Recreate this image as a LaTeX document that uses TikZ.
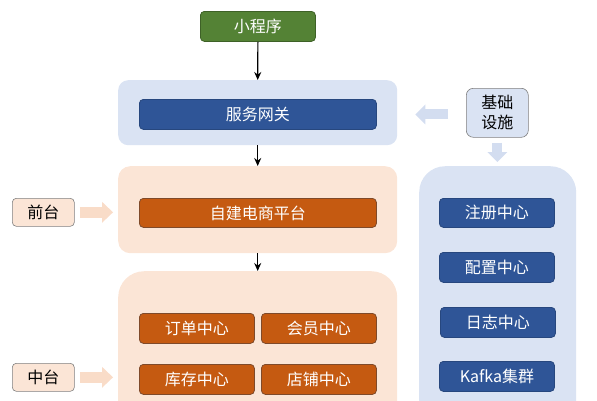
\documentclass[tikz,border=0pt]{standalone}
\usepackage{fontspec}
\setmainfont{Noto Sans CJK SC}
\usetikzlibrary{arrows.meta}
\definecolor{gfill}{HTML}{548235}
\definecolor{gline}{HTML}{3E6127}
\definecolor{bfill}{HTML}{2F5597}
\definecolor{bline}{HTML}{27477E}
\definecolor{ofill}{HTML}{C55A11}
\definecolor{oline}{HTML}{7F4A2A}
\definecolor{lblue}{HTML}{DAE3F3}
\definecolor{lpeach}{HTML}{FBE5D6}
\definecolor{apeach}{HTML}{F9DCC8}
\definecolor{ablue}{HTML}{D3DDF0}
\begin{document}
\begin{tikzpicture}[x=1pt,y=-1pt,
  box/.style={anchor=north west,rounded corners=4pt,inner sep=0pt,text=white,
    font=\fontsize{16}{19}\selectfont,line width=0.8pt},
  gbox/.style={box,fill=gfill,draw=gline},
  bbox/.style={box,fill=bfill,draw=bline},
  obox/.style={box,fill=ofill,draw=oline},
  lbl/.style={anchor=north west,rounded corners=4pt,inner sep=0pt,text=black,
    font=\fontsize{16}{20}\selectfont,draw=black!50,line width=0.6pt,align=center},
  bg/.style={anchor=north west,inner sep=0pt,draw=none},
  flow/.style={line width=1.2pt,-{Stealth[length=8pt,width=7pt]}},
  fatpeach/.style={draw=apeach,line width=11pt,-{Triangle[length=11pt,width=21pt,line width=0pt]}},
  fatblue/.style={draw=ablue,line width=10pt,-{Triangle[length=10pt,width=20pt,line width=0pt]}}
]
\useasboundingbox (0,0) rectangle (597,400);
% backgrounds
\node[bg,fill=lblue,rounded corners=10pt,minimum width=279pt,minimum height=65pt] (gwbg) at (118,80) {};
\node[bg,fill=lpeach,rounded corners=12pt,minimum width=279pt,minimum height=87pt] (ftbg) at (118,166) {};
\node[bg,fill=lpeach,rounded corners=26pt,minimum width=279pt,minimum height=160pt] (mtbg) at (118,271) {};
\node[bg,fill=lblue,rounded corners=26pt,minimum width=157pt,minimum height=260pt] (infbg) at (419,166) {};
% boxes
\node[gbox,minimum width=115pt,minimum height=30pt] (mini) at (200,11) {小程序};
\node[bbox,minimum width=237pt,minimum height=30pt] (gw) at (139,99) {服务网关};
\node[obox,minimum width=237pt,minimum height=29pt] (shop) at (139,198) {自建电商平台};
\node[obox,minimum width=115pt,minimum height=30pt] (order) at (139,313) {订单中心};
\node[obox,minimum width=115pt,minimum height=30pt] (member) at (261,313) {会员中心};
\node[obox,minimum width=115pt,minimum height=30pt] (stock) at (139,364) {库存中心};
\node[obox,minimum width=115pt,minimum height=30pt] (store) at (261,364) {店铺中心};
\node[bbox,minimum width=115pt,minimum height=29pt] (reg) at (439,198) {注册中心};
\node[bbox,minimum width=115pt,minimum height=30pt] (cfg) at (439,252) {配置中心};
\node[bbox,minimum width=115pt,minimum height=30pt] (log) at (440,307) {日志中心};
\node[bbox,minimum width=115pt,minimum height=30pt] (kafka) at (439,361) {Kafka集群};
% labels
\node[lbl,fill=lpeach,minimum width=62pt,minimum height=28pt] (front) at (12,198) {前台};
\node[lbl,fill=lpeach,minimum width=62pt,minimum height=28pt] (middle) at (12,363) {中台};
\node[lbl,fill=lblue,rounded corners=7pt,minimum width=62pt,minimum height=49pt] (infra) at (466,88) {基础\\设施};
% flow arrows
\draw[flow] (mini.south) -- (gwbg.north);
\draw[flow] (gwbg.south) -- (ftbg.north);
\draw[flow] (ftbg.south) -- (mtbg.north);
% block arrows
\draw[fatpeach,shorten <=5pt,shorten >=5pt] (front.east) -- (front.east -| ftbg.west);
\draw[fatpeach,shorten <=5pt,shorten >=5pt] (middle.east) -- (middle.east -| mtbg.west);
\draw[fatblue,shorten <=18pt,shorten >=18pt] (infra.west |- gw.east) -- (gw.east -| gwbg.east);
\draw[fatblue,shorten <=5pt,shorten >=4pt] (infra.south) -- (infra.south |- infbg.north);
\end{tikzpicture}
\end{document}
